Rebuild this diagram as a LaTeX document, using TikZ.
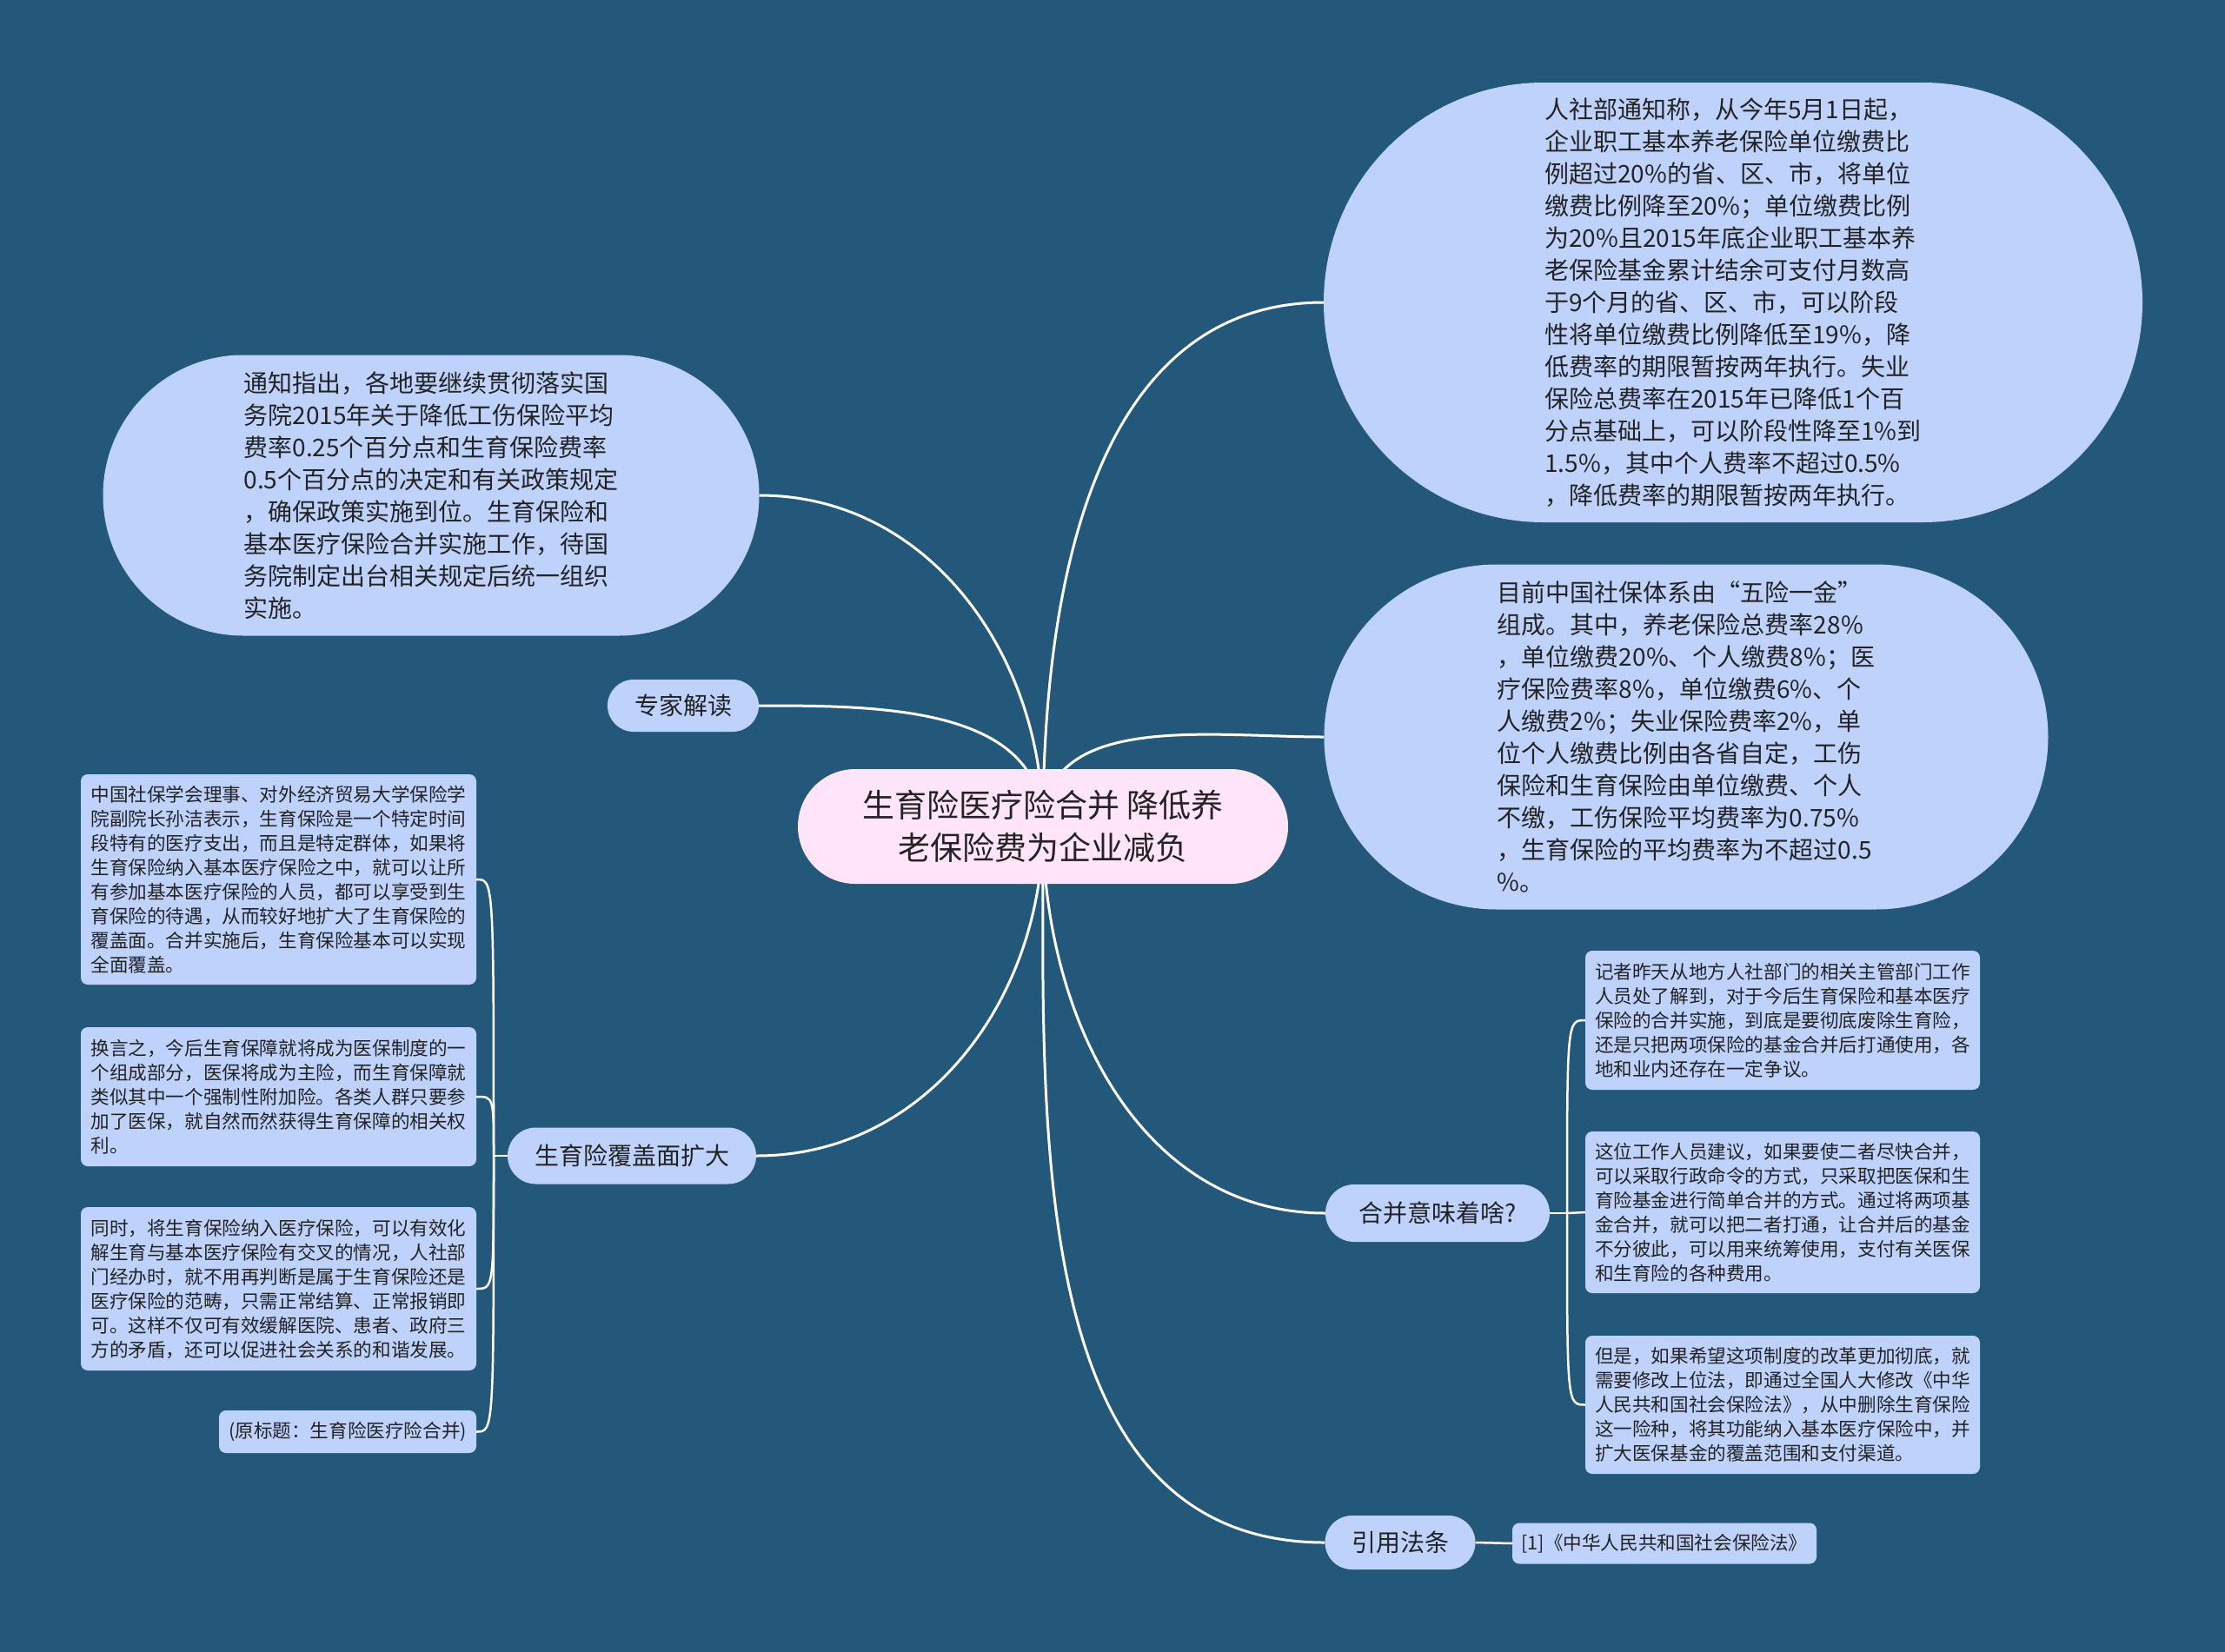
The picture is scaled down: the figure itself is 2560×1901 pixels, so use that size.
\documentclass[tikz,border=0pt]{standalone}
\usepackage{fontspec}
\setmainfont{Noto Sans CJK SC}
\usetikzlibrary{shapes.misc}
\definecolor{bgc}{RGB}{36,88,122}
\definecolor{nodec}{RGB}{190,210,252}
\definecolor{rootc}{RGB}{255,228,250}
\definecolor{txtc}{RGB}{35,35,35}
\pgfdeclarelayer{bglayer}
\pgfdeclarelayer{linelayer}
\pgfsetlayers{bglayer,linelayer,main}
\tikzset{
  stad/.style={rounded rectangle, fill=nodec, text=txtc, inner sep=0pt, align=left},
  bigtext/.style={stad, font=\fontsize{28}{37}\selectfont},
  topic/.style={stad, align=center, font=\fontsize{28}{34}\selectfont},
  smallbox/.style={rectangle, rounded corners=8pt, fill=nodec, text=txtc, inner sep=0pt, align=left, font=\fontsize{21.6}{28}\selectfont},
  conn/.style={draw=white, line width=3pt},
  subconn/.style={draw=white, line width=2.5pt},
}
\begin{document}
\begin{tikzpicture}[x=1pt,y=-1pt]
\useasboundingbox (0,0) rectangle (2560,1901);
\begin{pgfonlayer}{bglayer}
\fill[bgc] (0,0) rectangle (2560,1901);
\end{pgfonlayer}

% root
\node[stad, fill=rootc, align=center, minimum width=564pt, minimum height=132pt,
      font=\fontsize{37}{49}\selectfont] (root) at (1200,951)
  {生育险医疗险合并 降低养\\老保险费为企业减负};

% big right / left nodes
\node[bigtext, minimum width=942pt, minimum height=506pt] (tr) at (1994,348)
  {人社部通知称，从今年5月1日起，\\
   企业职工基本养老保险单位缴费比\\
   例超过20\%的省、区、市，将单位\\
   缴费比例降至20\%；单位缴费比例\\
   为20\%且2015年底企业职工基本养\\
   老保险基金累计结余可支付月数高\\
   于9个月的省、区、市，可以阶段\\
   性将单位缴费比例降低至19\%，降\\
   低费率的期限暂按两年执行。失业\\
   保险总费率在2015年已降低1个百\\
   分点基础上，可以阶段性降至1\%到\\
   1.5\%，其中个人费率不超过0.5\%\\
   ，降低费率的期限暂按两年执行。};

\node[bigtext, minimum width=833pt, minimum height=397pt] (rb) at (1940,848)
  {目前中国社保体系由“五险一金”\\
   组成。其中，养老保险总费率28\%\\
   ，单位缴费20\%、个人缴费8\%；医\\
   疗保险费率8\%，单位缴费6\%、个\\
   人缴费2\%；失业保险费率2\%，单\\
   位个人缴费比例由各省自定，工伤\\
   保险和生育保险由单位缴费、个人\\
   不缴，工伤保险平均费率为0.75\%\\
   ，生育保险的平均费率为不超过0.5\\
   \%。};

\node[bigtext, minimum width=755pt, minimum height=323pt] (tl) at (496,570)
  {通知指出，各地要继续贯彻落实国\\
   务院2015年关于降低工伤保险平均\\
   费率0.25个百分点和生育保险费率\\
   0.5个百分点的决定和有关政策规定\\
   ，确保政策实施到位。生育保险和\\
   基本医疗保险合并实施工作，待国\\
   务院制定出台相关规定后统一组织\\
   实施。};

% topic nodes
\node[topic, minimum width=174pt, minimum height=60pt] (zj) at (786,812) {专家解读};
\node[topic, minimum width=286pt, minimum height=65pt] (cov) at (727,1330) {生育险覆盖面扩大};
\node[topic, minimum width=258pt, minimum height=66pt] (hb) at (1654,1396) {合并意味着啥?};
\node[topic, minimum width=173pt, minimum height=62pt] (yy) at (1611,1775) {引用法条};

% small boxes left
\node[smallbox, minimum width=455pt, minimum height=242pt] (l1) at (320.5,1012)
  {中国社保学会理事、对外经济贸易大学保险学\\
   院副院长孙洁表示，生育保险是一个特定时间\\
   段特有的医疗支出，而且是特定群体，如果将\\
   生育保险纳入基本医疗保险之中，就可以让所\\
   有参加基本医疗保险的人员，都可以享受到生\\
   育保险的待遇，从而较好地扩大了生育保险的\\
   覆盖面。合并实施后，生育保险基本可以实现\\
   全面覆盖。};
\node[smallbox, minimum width=455pt, minimum height=160pt] (l2) at (320.5,1262)
  {换言之，今后生育保障就将成为医保制度的一\\
   个组成部分，医保将成为主险，而生育保障就\\
   类似其中一个强制性附加险。各类人群只要参\\
   加了医保，就自然而然获得生育保障的相关权\\
   利。};
\node[smallbox, minimum width=455pt, minimum height=188pt] (l3) at (320.5,1483)
  {同时，将生育保险纳入医疗保险，可以有效化\\
   解生育与基本医疗保险有交叉的情况，人社部\\
   门经办时，就不用再判断是属于生育保险还是\\
   医疗保险的范畴，只需正常结算、正常报销即\\
   可。这样不仅可有效缓解医院、患者、政府三\\
   方的矛盾，还可以促进社会关系的和谐发展。};
\node[smallbox, align=center, minimum width=296pt, minimum height=49pt] (l4) at (400,1647.5)
  {(原标题：生育险医疗险合并)};

% small boxes right
\node[smallbox, minimum width=454pt, minimum height=160pt] (r1) at (2051,1174)
  {记者昨天从地方人社部门的相关主管部门工作\\
   人员处了解到，对于今后生育保险和基本医疗\\
   保险的合并实施，到底是要彻底废除生育险，\\
   还是只把两项保险的基金合并后打通使用，各\\
   地和业内还存在一定争议。};
\node[smallbox, minimum width=454pt, minimum height=186pt] (r2) at (2051,1395)
  {这位工作人员建议，如果要使二者尽快合并，\\
   可以采取行政命令的方式，只采取把医保和生\\
   育险基金进行简单合并的方式。通过将两项基\\
   金合并，就可以把二者打通，让合并后的基金\\
   不分彼此，可以用来统筹使用，支付有关医保\\
   和生育险的各种费用。};
\node[smallbox, minimum width=454pt, minimum height=159pt] (r3) at (2051,1616.5)
  {但是，如果希望这项制度的改革更加彻底，就\\
   需要修改上位法，即通过全国人大修改《中华\\
   人民共和国社会保险法》，从中删除生育保险\\
   这一险种，将其功能纳入基本医疗保险中，并\\
   扩大医保基金的覆盖范围和支付渠道。};
\node[smallbox, align=center, minimum width=350pt, minimum height=47pt] (law) at (1915,1776)
  {[1]《中华人民共和国社会保险法》};

% hubs
\coordinate (hl) at (568,1330);
\coordinate (hr) at (1803,1396);

\begin{pgfonlayer}{linelayer}
\draw[conn] (root.center) to[out=90,in=0] (tl.east);
\draw[conn] (root.center) to[out=90,in=0] (zj.east);
\draw[conn] (root.center) to[out=90,in=180] (tr.west);
\draw[conn] (root.center) to[out=90,in=180] (rb.west);
\draw[conn] (root.center) to[out=-90,in=0] (cov.east);
\draw[conn] (root.center) to[out=-90,in=180] (hb.west);
\draw[conn] (root.center) to[out=-90,in=180] (yy.west);

\draw[subconn] (cov.west) -- (hl);
\draw[subconn] (hl) .. controls (hl |- l1.east) .. (l1.east);
\draw[subconn] (hl) .. controls (hl |- l2.east) .. (l2.east);
\draw[subconn] (hl) .. controls (hl |- l3.east) .. (l3.east);
\draw[subconn] (hl) .. controls (hl |- l4.east) .. (l4.east);

\draw[subconn] (hb.east) -- (hr);
\draw[subconn] (hr) .. controls (hr |- r1.west) .. (r1.west);
\draw[subconn] (hr) -- (r2.west);
\draw[subconn] (hr) .. controls (hr |- r3.west) .. (r3.west);

\draw[subconn] (yy.east) -- (law.west);
\end{pgfonlayer}
\end{tikzpicture}
\end{document}
